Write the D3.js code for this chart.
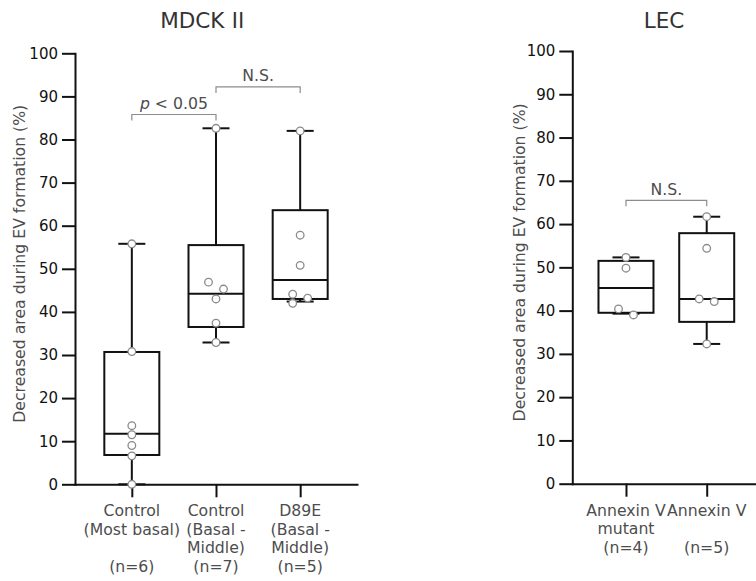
<!DOCTYPE html>
<html>
<head>
<meta charset="utf-8">
<script src="https://cdn.jsdelivr.net/npm/d3@7"></script>
<style>
  body { margin: 0; background: #fff; }
  svg { display: block; }
  text { font-family: "DejaVu Sans", sans-serif; }
</style>
</head>
<body>
<svg id="chart" width="756" height="581"></svg>
<script>
// y axis ticks shared by both panels
const yTicks = [0, 10, 20, 30, 40, 50, 60, 70, 80, 90, 100];
const yTitle = "Decreased area during EV formation (%)";

// MDCK II panel
const mdckLabels = [
  ["Control", "(Most basal)", "", "(n=6)"],
  ["Control", "(Basal -", "Middle)", "(n=7)"],
  ["D89E", "(Basal -", "Middle)", "(n=5)"]
];
const mdckMin = [0, 32.9, 42.4];
const mdckQ1 = [6.8, 36.5, 43.0];
const mdckMedian = [11.7, 44.2, 47.4];
const mdckQ3 = [30.7, 55.5, 63.6];
const mdckMax = [55.8, 82.6, 82.0];
const mdckPoints = [
  [55.8, 30.8, 13.6, 11.5, 9.0, 6.6, 0],
  [82.6, 46.9, 45.3, 43.0, 37.4, 32.9],
  [82.0, 57.8, 50.8, 44.1, 43.2, 42.0]
];
const mdckTestPairs = [[0, 1], [1, 2]];
const mdckTestLevels = [85.8, 92.2];
const mdckTestLabels = ["p < 0.05", "N.S."];

// LEC panel
const lecLabels = [
  ["Annexin V", "mutant", "(n=4)"],
  ["Annexin V", "", "(n=5)"]
];
const lecMin = [39.3, 32.3];
const lecQ1 = [39.5, 37.4];
const lecMedian = [45.2, 42.7];
const lecQ3 = [51.5, 57.9];
const lecMax = [52.3, 61.7];
const lecPoints = [
  [52.3, 49.8, 40.4, 39.0],
  [61.7, 54.4, 42.7, 42.1, 32.3]
];
const lecTestPairs = [[0, 1]];
const lecTestLevels = [65.5];
const lecTestLabels = ["N.S."];

const svg = d3.select('#chart');

function drawPanel(d, layout) {
    const g = svg.append('g');
    const keys = d.labels.map((l, i) => i);

    const y = d3.scaleLinear().domain([0, 100]).range([layout.yBottom, layout.yTop]);
    const x = d3.scalePoint().domain(keys)
        .range([layout.xLeft, layout.xRight])
        .padding(layout.padding);

    // axes
    const yAxis = g.append('g')
        .attr('transform', `translate(${layout.xLeft},0)`)
        .call(d3.axisLeft(y).tickValues(yTicks).tickSize(13).tickSizeOuter(0).tickPadding(4));
    const xAxis = g.append('g')
        .attr('transform', `translate(0,${layout.yBottom})`)
        .call(d3.axisBottom(x).tickSize(13).tickSizeOuter(0).tickFormat(''));

    [yAxis, xAxis].forEach(a => {
        a.select('.domain').attr('stroke', '#111').attr('stroke-width', 2).attr('stroke-linecap', 'square');
        a.selectAll('.tick line').attr('stroke', '#111').attr('stroke-width', 2);
    });
    yAxis.selectAll('.tick text')
        .attr('font-size', 15)
        .attr('fill', '#111')
        .style('font-family', '"DejaVu Sans", sans-serif');

    // category labels (multi-line)
    keys.forEach(i => {
        const t = g.append('text')
            .attr('text-anchor', 'middle')
            .attr('font-size', 15.7)
            .attr('fill', '#4d4d4d');
        d.labels[i].forEach((line, j) => {
            t.append('tspan')
                .attr('x', x(i))
                .attr('y', layout.yBottom + 32 + j * 18.5)
                .text(line);
        });
    });

    // title (roman numeral drawn with a CJK font so it gets its bars)
    const title = g.append('text')
        .attr('x', layout.titleX)
        .attr('y', 28)
        .attr('text-anchor', 'middle')
        .attr('font-size', 21.5)
        .attr('fill', '#333');
    const parts = d.title.split(' ');
    title.append('tspan').text(parts[0]);
    if (parts[1]) {
        title.append('tspan')
            .attr('dx', 3)
            .style('font-family', '"Noto Sans CJK JP", "DejaVu Serif", serif')
            .text(parts[1]);
    }

    // y axis title
    g.append('text')
        .attr('transform', `translate(${layout.labelX},${(layout.yTop + layout.yBottom) / 2 - 5}) rotate(-90)`)
        .attr('text-anchor', 'middle')
        .attr('font-size', 15.7)
        .attr('fill', '#4d4d4d')
        .text(yTitle);

    // boxes
    const boxW = 55, capW = 27;
    const box = g.append('g').attr('stroke', '#111').attr('stroke-width', 2).attr('fill', 'none');
    keys.forEach(i => {
        const cx = x(i);
        // whiskers
        box.append('line').attr('x1', cx).attr('x2', cx).attr('y1', y(d.min[i])).attr('y2', y(d.q1[i]));
        box.append('line').attr('x1', cx).attr('x2', cx).attr('y1', y(d.q3[i])).attr('y2', y(d.max[i]));
        box.append('line').attr('x1', cx - capW / 2).attr('x2', cx + capW / 2).attr('y1', y(d.min[i])).attr('y2', y(d.min[i]));
        box.append('line').attr('x1', cx - capW / 2).attr('x2', cx + capW / 2).attr('y1', y(d.max[i])).attr('y2', y(d.max[i]));
        box.append('rect')
            .attr('x', cx - boxW / 2)
            .attr('y', y(d.q3[i]))
            .attr('width', boxW)
            .attr('height', y(d.q1[i]) - y(d.q3[i]));
        box.append('line').attr('x1', cx - boxW / 2).attr('x2', cx + boxW / 2).attr('y1', y(d.median[i])).attr('y2', y(d.median[i]));
    });

    // points: dodge sideways when they would overlap
    const r = 3.8;
    keys.forEach(i => {
        const vals = d.points[i].slice().sort((a, b) => b - a);
        const placed = vals.map(v => ({ v, py: y(v), side: 0 }));
        // group into clusters of points closer than 8px, alternate sides in each
        let k = 0;
        while (k < placed.length) {
            let m = k + 1;
            while (m < placed.length && Math.abs(placed[m].py - placed[m - 1].py) < 8) m++;
            if (m - k > 1) {
                let s = -1;
                for (let n = k; n < m; n++) { placed[n].side = s; s = -s; }
            }
            k = m;
        }
        g.append('g').selectAll('circle')
            .data(placed)
            .enter()
            .append('circle')
            .attr('cx', p => x(i) + p.side * 7.5)
            .attr('cy', p => p.py)
            .attr('r', r)
            .attr('fill', '#fff')
            .attr('stroke', '#8a8a8a')
            .attr('stroke-width', 1.3);
    });

    // significance brackets
    d.testPairs.forEach(([a, b], k) => {
        const by = y(d.testLevels[k]);
        g.append('path')
            .attr('d', `M${x(a)},${by + 6}V${by}H${x(b)}V${by + 6}`)
            .attr('fill', 'none')
            .attr('stroke', '#8c8c8c')
            .attr('stroke-width', 1.2);
        const t = g.append('text')
            .attr('x', (x(a) + x(b)) / 2)
            .attr('y', by - 5.5)
            .attr('text-anchor', 'middle')
            .attr('font-size', 15.7)
            .attr('fill', '#4d4d4d');
        const label = d.testLabels[k];
        if (label.startsWith('p ')) {
            t.append('tspan').attr('font-style', 'italic').text('p');
            t.append('tspan').text(label.slice(1));
        } else {
            t.text(label);
        }
    });
}

drawPanel({
    title: 'MDCK \u2161', labels: mdckLabels,
    min: mdckMin, q1: mdckQ1, median: mdckMedian, q3: mdckQ3, max: mdckMax,
    points: mdckPoints, testPairs: mdckTestPairs, testLevels: mdckTestLevels, testLabels: mdckTestLabels
}, { xLeft: 75, xRight: 357, yTop: 53.3, yBottom: 484.3, padding: 0.675, titleX: 204.5, labelX: 25 });

drawPanel({
    title: 'LEC', labels: lecLabels,
    min: lecMin, q1: lecQ1, median: lecMedian, q3: lecQ3, max: lecMax,
    points: lecPoints, testPairs: lecTestPairs, testLevels: lecTestLevels, testLabels: lecTestLabels
}, { xLeft: 572.3, xRight: 760.4, yTop: 51, yBottom: 483.7, padding: 0.665, titleX: 664, labelX: 524.5 });
</script>
</body>
</html>
